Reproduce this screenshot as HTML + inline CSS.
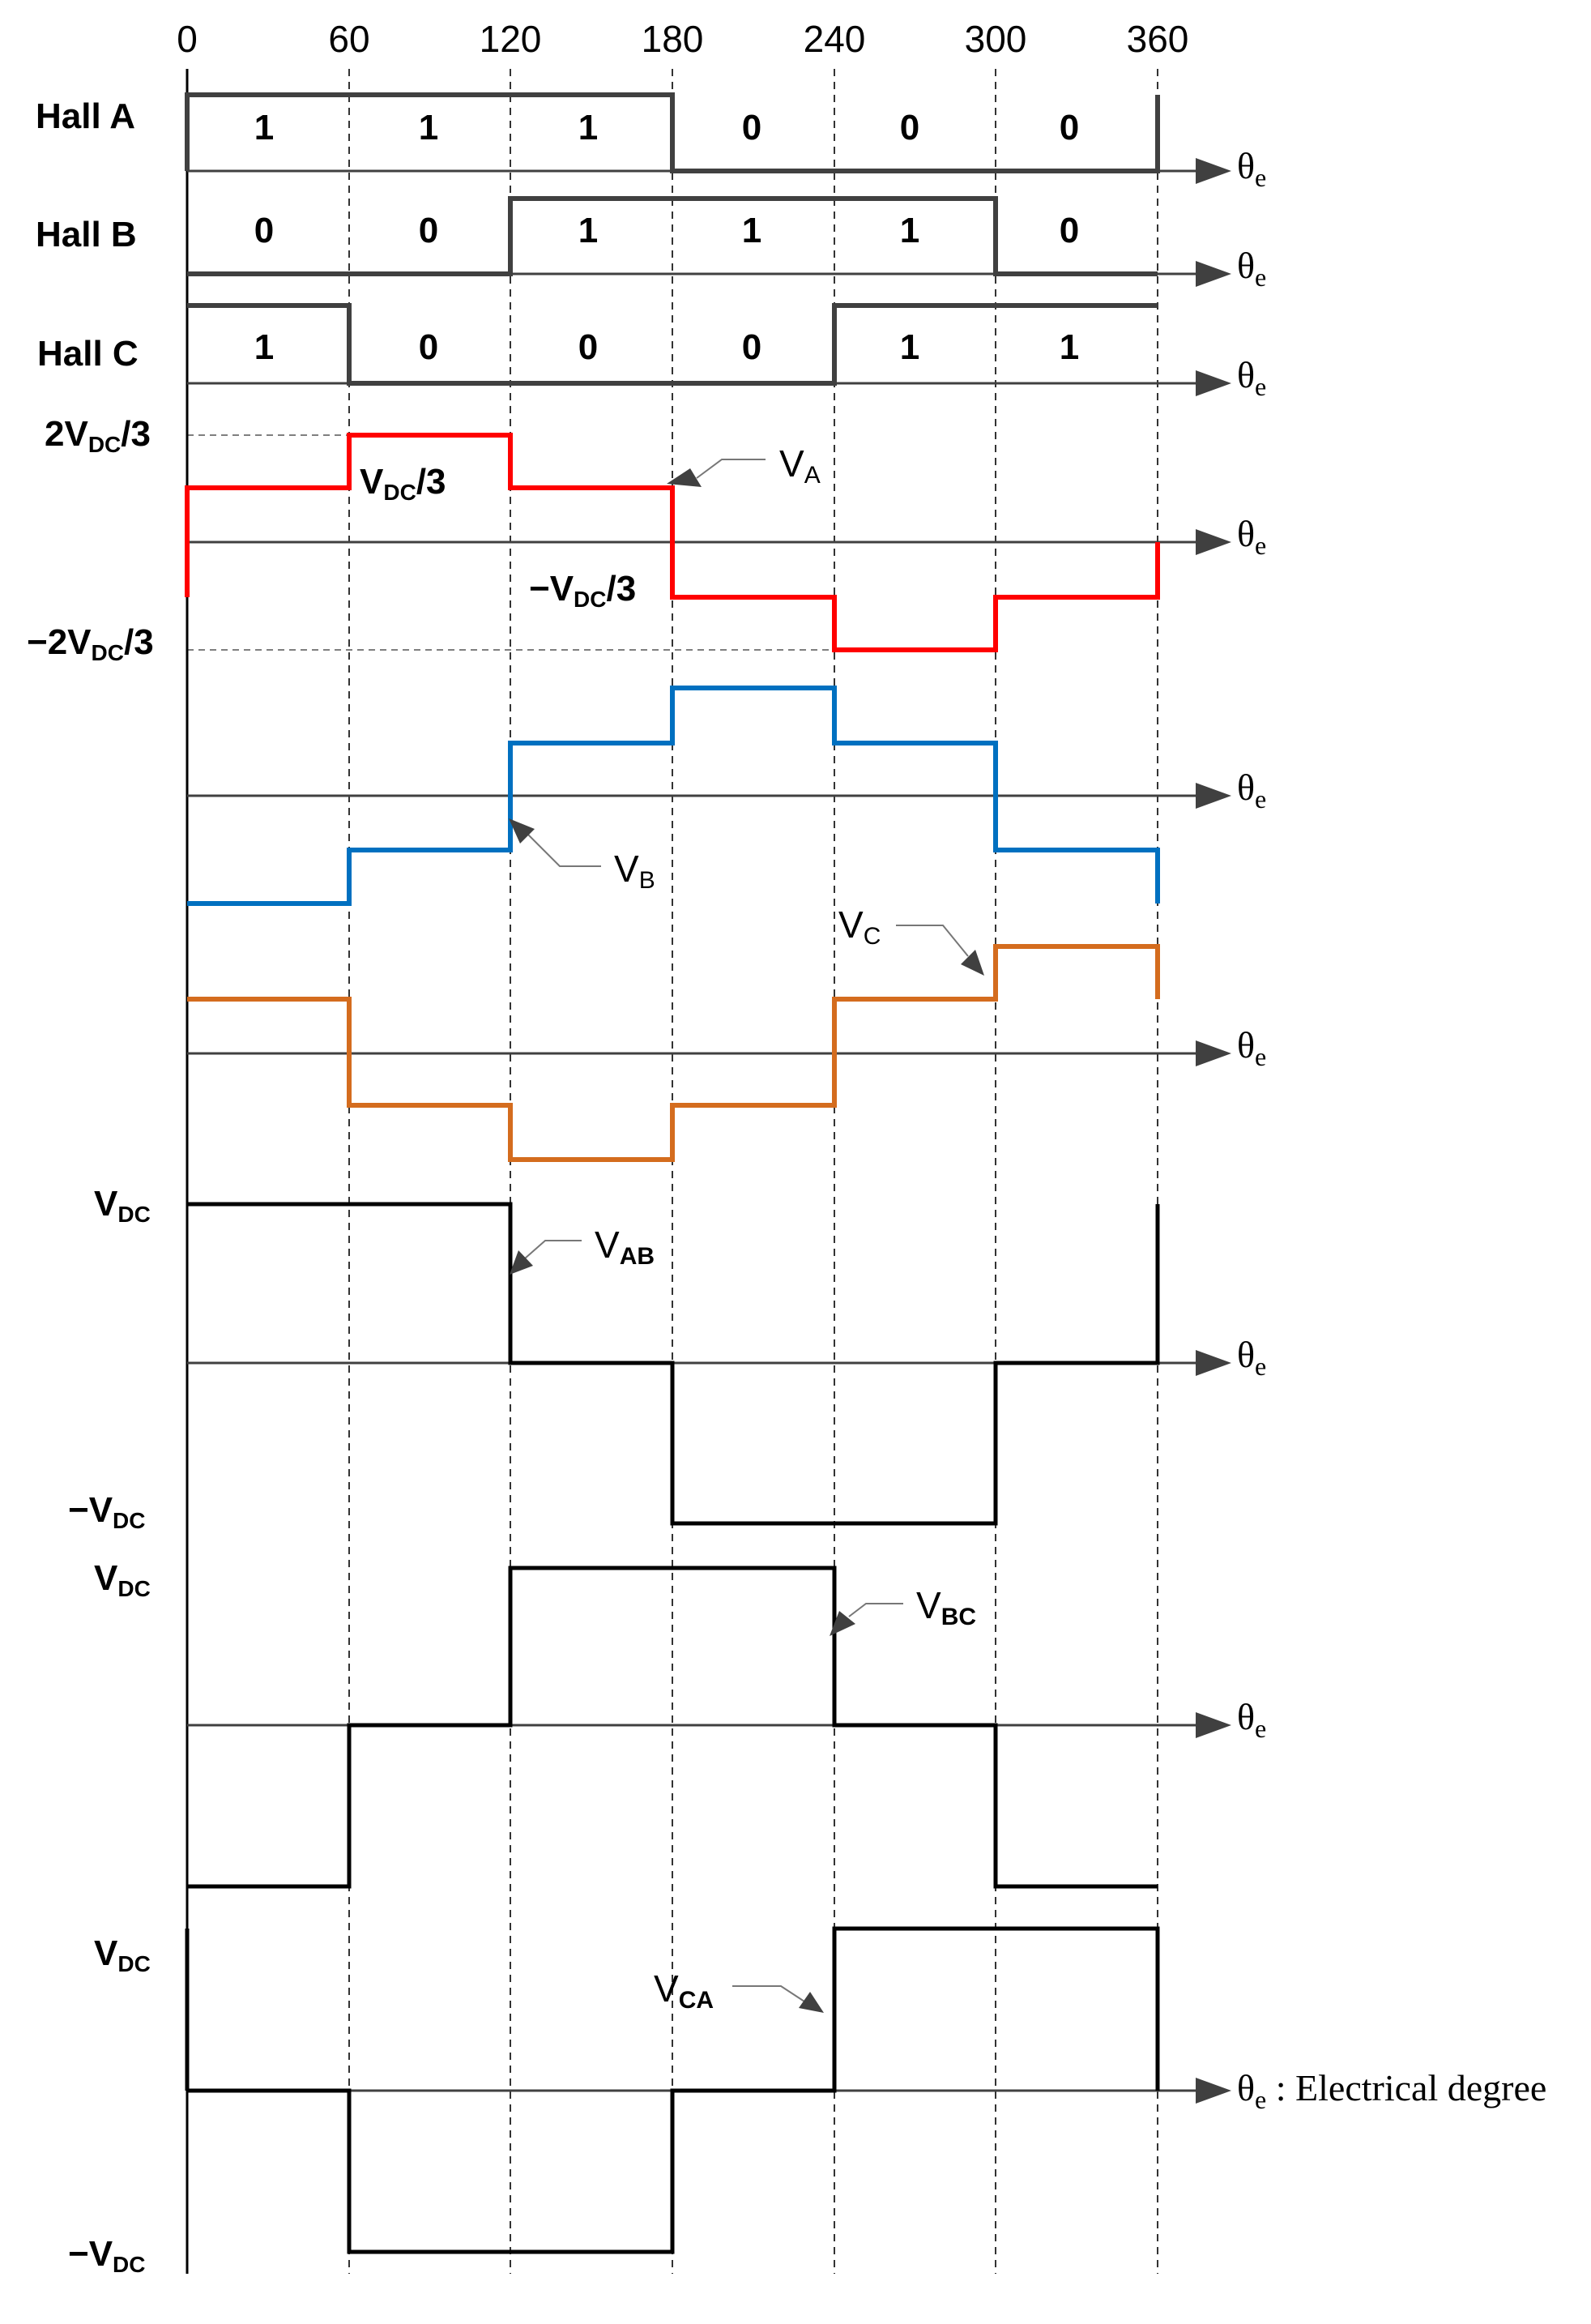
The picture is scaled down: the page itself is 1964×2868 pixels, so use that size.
<!DOCTYPE html>
<html><head><meta charset="utf-8"><style>
html,body{margin:0;padding:0;background:#fff}
svg{display:block}
.n{font-family:"Liberation Sans",sans-serif;font-size:46px;fill:#000}
.b{font-family:"Liberation Sans",sans-serif;font-size:44px;font-weight:bold;fill:#000}
.s{font-family:"Liberation Serif",serif;font-size:46px;fill:#000}
</style></head><body>
<svg width="1964" height="2868" viewBox="0 0 1964 2868" xmlns="http://www.w3.org/2000/svg">
<defs>
<marker id="ah" markerWidth="10" markerHeight="10" refX="9" refY="5" orient="auto" markerUnits="userSpaceOnUse" viewBox="0 0 10 10"><path d="M0,0 L10,5 L0,10 Z" fill="#404040"/></marker>
</defs>
<!-- gridlines -->
<g stroke="#333" stroke-width="2" stroke-dasharray="9,7" fill="none">
<line x1="431" y1="85" x2="431" y2="2806"/>
<line x1="630" y1="85" x2="630" y2="2806"/>
<line x1="830" y1="85" x2="830" y2="2806"/>
<line x1="1030" y1="85" x2="1030" y2="2806"/>
<line x1="1229" y1="85" x2="1229" y2="2806"/>
<line x1="1429" y1="85" x2="1429" y2="2806"/>
</g>
<g stroke="#555" stroke-width="1.5" stroke-dasharray="8,6">
<line x1="231" y1="537" x2="431" y2="537"/>
<line x1="231" y1="802" x2="1030" y2="802"/>
</g>
<!-- main vertical axis -->
<line x1="231" y1="85" x2="231" y2="2806" stroke="#000" stroke-width="3"/>
<!-- horizontal axes -->
<g stroke="#404040" stroke-width="3">
<line x1="231" y1="211" x2="1480" y2="211"/>
<line x1="231" y1="338" x2="1480" y2="338"/>
<line x1="231" y1="473" x2="1480" y2="473"/>
<line x1="231" y1="669" x2="1480" y2="669"/>
<line x1="231" y1="982" x2="1480" y2="982"/>
<line x1="231" y1="1300" x2="1480" y2="1300"/>
<line x1="231" y1="1682" x2="1480" y2="1682"/>
<line x1="231" y1="2129" x2="1480" y2="2129"/>
<line x1="231" y1="2580" x2="1480" y2="2580"/>
</g>
<g fill="#404040">
<path d="M1476,195 L1520,211 L1476,227Z"/>
<path d="M1476,322 L1520,338 L1476,354Z"/>
<path d="M1476,457 L1520,473 L1476,489Z"/>
<path d="M1476,653 L1520,669 L1476,685Z"/>
<path d="M1476,966 L1520,982 L1476,998Z"/>
<path d="M1476,1284 L1520,1300 L1476,1316Z"/>
<path d="M1476,1666 L1520,1682 L1476,1698Z"/>
<path d="M1476,2113 L1520,2129 L1476,2145Z"/>
<path d="M1476,2564 L1520,2580 L1476,2596Z"/>
</g>
<!-- Hall waveforms -->
<g fill="none" stroke="#404040" stroke-width="6" stroke-linejoin="miter">
<path d="M231,211 V117 H830 V211 H1429 V117"/>
<path d="M231,338 H630 V245 H1229 V338 H1429"/>
<path d="M231,377 H431 V473 H1030 V377 H1429"/>
</g>
<!-- phase voltages -->
<g fill="none" stroke-width="6">
<path stroke="#ff0000" d="M231,737 V602 H431 V537 H630 V602 H830 V737 H1030 V802 H1229 V737 H1429 V669"/>
<path stroke="#0070c0" d="M231,1115 H431 V1049 H630 V917 H830 V849 H1030 V917 H1229 V1049 H1429 V1115"/>
<path stroke="#d46c1e" d="M231,1233 H431 V1364 H630 V1431 H830 V1364 H1030 V1233 H1229 V1168 H1429 V1233"/>
</g>
<g fill="none" stroke="#000" stroke-width="5">
<path d="M231,1486 H630 V1682 H830 V1880 H1229 V1682 H1429 V1486"/>
<path d="M231,2328 H431 V2129 H630 V1935 H1030 V2129 H1229 V2328 H1429"/>
<path d="M231,2580 H431 V2779 H830 V2580 H1030 V2380 H1429 V2580"/>
<path d="M231,2380 V2580"/>
</g>
<!-- callouts -->
<g fill="none" stroke="#777" stroke-width="2">
<path d="M945,567 H891 L860,590"/>
<path d="M742,1069 H691 L652,1030"/>
<path d="M1106,1142 H1164 L1195,1180"/>
<path d="M718,1531 H673 L648,1553"/>
<path d="M1115,1979 H1069 L1048,1995"/>
<path d="M904,2451 H964 L993,2470"/>
</g>
<g fill="#404040">
<path d="M823,597 L852,578 L866,601Z"/>
<path d="M628,1010 L660,1023 L642,1041Z"/>
<path d="M1215,1204 L1186,1190 L1204,1172Z"/>
<path d="M629,1573 L640,1543 L658,1562Z"/>
<path d="M1024,2019 L1036,1988 L1056,2004Z"/>
<path d="M1017,2484 L986,2478 L1000,2458 Z"/>
</g>
<!-- top numbers -->
<g class="n" text-anchor="middle">
<text x="231" y="64">0</text><text x="431" y="64">60</text><text x="630" y="64">120</text>
<text x="830" y="64">180</text><text x="1030" y="64">240</text><text x="1229" y="64">300</text><text x="1429" y="64">360</text>
</g>
<!-- hall labels -->
<g class="b">
<text x="44" y="158">Hall A</text>
<text x="44" y="304">Hall B</text>
<text x="46" y="451">Hall C</text>
</g>
<g class="b" text-anchor="middle">
<text x="326" y="172">1</text><text x="529" y="172">1</text><text x="726" y="172">1</text><text x="928" y="172">0</text><text x="1123" y="172">0</text><text x="1320" y="172">0</text>
<text x="326" y="299">0</text><text x="529" y="299">0</text><text x="726" y="299">1</text><text x="928" y="299">1</text><text x="1123" y="299">1</text><text x="1320" y="299">0</text>
<text x="326" y="443">1</text><text x="529" y="443">0</text><text x="726" y="443">0</text><text x="928" y="443">0</text><text x="1123" y="443">1</text><text x="1320" y="443">1</text>
</g>
<!-- theta labels -->
<g class="s">
<text x="1527" y="220">θ<tspan font-size="32" dy="10">e</tspan></text>
<text x="1527" y="343">θ<tspan font-size="32" dy="10">e</tspan></text>
<text x="1527" y="478">θ<tspan font-size="32" dy="10">e</tspan></text>
<text x="1527" y="674">θ<tspan font-size="32" dy="10">e</tspan></text>
<text x="1527" y="987">θ<tspan font-size="32" dy="10">e</tspan></text>
<text x="1527" y="1305">θ<tspan font-size="32" dy="10">e</tspan></text>
<text x="1527" y="1687">θ<tspan font-size="32" dy="10">e</tspan></text>
<text x="1527" y="2134">θ<tspan font-size="32" dy="10">e</tspan></text>
<text x="1527" y="2592">θ<tspan font-size="32" dy="10">e</tspan><tspan dy="-10"> : Electrical degree</tspan></text>
</g>
<!-- voltage labels -->
<g class="b" font-size="40">
<text x="55" y="550">2V<tspan font-size="28" dy="8">DC</tspan><tspan dy="-8">/3</tspan></text>
<text x="444" y="609">V<tspan font-size="28" dy="8">DC</tspan><tspan dy="-8">/3</tspan></text>
<text x="653" y="741">−V<tspan font-size="28" dy="8">DC</tspan><tspan dy="-8">/3</tspan></text>
<text x="33" y="807">−2V<tspan font-size="28" dy="8">DC</tspan><tspan dy="-8">/3</tspan></text>
<text x="116" y="1500">V<tspan font-size="28" dy="8">DC</tspan></text>
<text x="84" y="1878">−V<tspan font-size="28" dy="8">DC</tspan></text>
<text x="116" y="1962">V<tspan font-size="28" dy="8">DC</tspan></text>
<text x="116" y="2425">V<tspan font-size="28" dy="8">DC</tspan></text>
<text x="84" y="2796">−V<tspan font-size="28" dy="8">DC</tspan></text>
</g>
<g class="n" font-size="44">
<text x="962" y="588">V<tspan font-size="30" dy="8">A</tspan></text>
<text x="758" y="1088">V<tspan font-size="30" dy="8">B</tspan></text>
<text x="1035" y="1157">V<tspan font-size="30" dy="8">C</tspan></text>
<text x="734" y="1552">V<tspan font-size="30" font-weight="bold" dy="8">AB</tspan></text>
<text x="1131" y="1997">V<tspan font-size="30" font-weight="bold" dy="8">BC</tspan></text>
<text x="807" y="2470">V<tspan font-size="30" font-weight="bold" dy="8">CA</tspan></text>
</g>
</svg>
</body></html>
